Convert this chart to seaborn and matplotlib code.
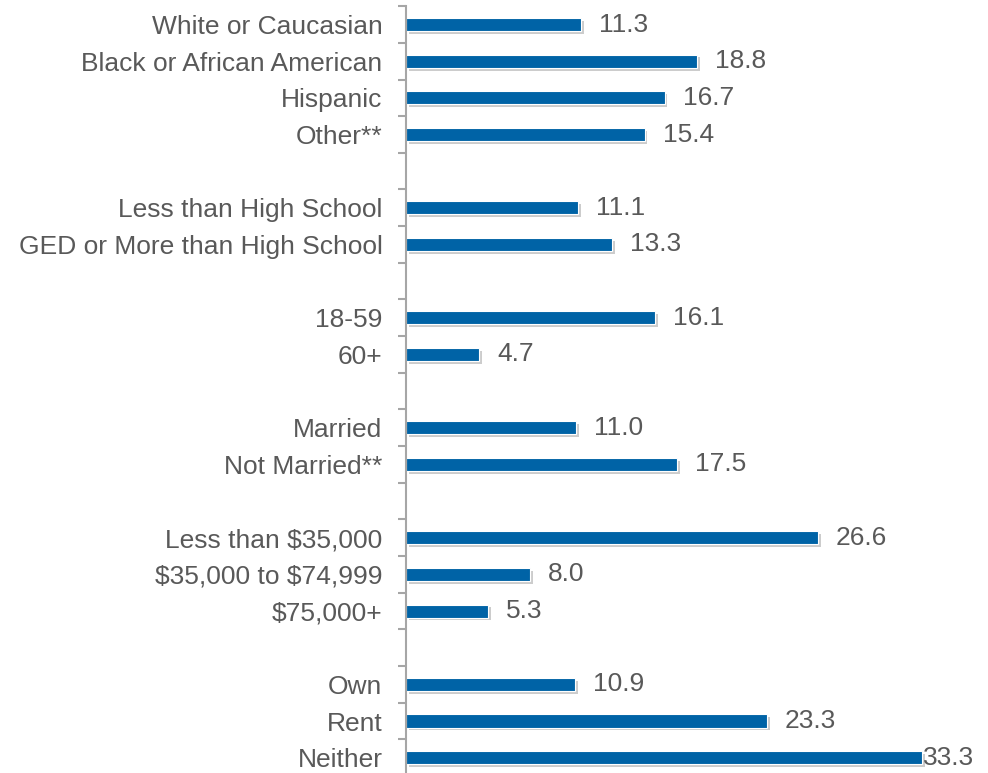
import matplotlib
matplotlib.use("Agg")
import matplotlib.pyplot as plt
import matplotlib.patheffects as pe
from matplotlib.ticker import FixedLocator
import seaborn as sns
import pandas as pd

# groups of categories and their values (percent)
race = ["White or Caucasian", "Black or African American", "Hispanic", "Other**"]
race_vals = [11.3, 18.8, 16.7, 15.4]
education = ["Less than High School", "GED or More than High School"]
education_vals = [11.1, 13.3]
age = ["18-59", "60+"]
age_vals = [16.1, 4.7]
marital = ["Married", "Not Married**"]
marital_vals = [11.0, 17.5]
income = ["Less than $35,000", "$35,000 to $74,999", "$75,000+"]
income_vals = [26.6, 8.0, 5.3]
housing = ["Own", "Rent", "Neither"]
housing_vals = [10.9, 23.3, 33.3]

groups = [(race, race_vals), (education, education_vals), (age, age_vals),
          (marital, marital_vals), (income, income_vals), (housing, housing_vals)]

# build row order with a blank spacer row between groups
order, labels, values = [], [], []
for i, (cats, vals) in enumerate(groups):
    if i > 0:
        order.append(" " * i)
    order.extend(cats)
    labels.extend(cats)
    values.extend(vals)
df = pd.DataFrame({"label": labels, "value": values})

sns.set_style("white")
plt.rcParams['font.family'] = ['Liberation Sans', 'DejaVu Sans']
plt.rcParams['text.parse_math'] = False
txt = "#595959"
axis_gray = "#a6a6a6"

fig = plt.figure(figsize=(9.88, 7.73), dpi=100)
ax = fig.add_axes([0.411, -0.004, 0.58, 0.996])

sns.barplot(data=df, x="value", y="label", order=order, color="#0063a6",
            width=0.36, saturation=1, edgecolor="white", linewidth=0.8, ax=ax)

for p in ax.patches:
    p.set_path_effects([pe.withSimplePatchShadow(offset=(2, -2), shadow_rgbFace="#808080", alpha=0.4),
                        pe.Normal()])

anns = ax.bar_label(ax.containers[0], fmt="%.1f", padding=13, fontsize=19, color=txt)
# longest bar: label sits right at the bar end, as in the source chart
anns[-1].xyann = (1, 0)

ax.set_xlim(0, 37)
ax.set_ylim(len(order) - 0.5, -0.5)
ax.set_xlabel("")
ax.set_ylabel("")
ax.set_xticks([])

# tick marks at row boundaries, labels at row centres
ax.yaxis.set_minor_locator(FixedLocator([k - 0.5 for k in range(len(order) + 1)]))
ax.tick_params(axis="y", which="major", length=0, pad=17, labelsize=19, labelcolor=txt)
ax.tick_params(axis="y", which="minor", length=6, width=1.5, color=axis_gray, direction="out", left=True)

for side in ["top", "right", "bottom"]:
    ax.spines[side].set_visible(False)
ax.spines["left"].set_color(axis_gray)
ax.spines["left"].set_linewidth(1.5)

fig.savefig("out.png", dpi=100)
plt.close(fig)
